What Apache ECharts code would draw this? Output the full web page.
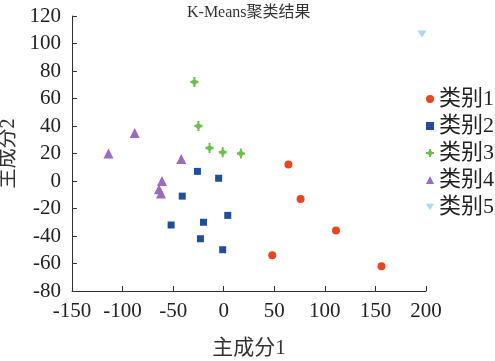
<!DOCTYPE html>
<html><head><meta charset="utf-8">
<script src="https://cdn.jsdelivr.net/npm/echarts@6/dist/echarts.min.js"></script>
<style>html,body{margin:0;padding:0;background:#fff}#c{width:495px;height:361px}</style>
</head><body><div id="c"></div>
<script>
var titleText = 'K-Means聚类结果';
var xName = '主成分1';
var yName = '主成分2';
var seriesNames = ['类别1', '类别2', '类别3', '类别4', '类别5'];
var cluster1 = [[64, 12], [76, -13], [111, -36], [48, -54], [156, -62]];
var cluster2 = [[-26, 7], [-5, 2], [-41, -11], [4, -25], [-52, -32], [-20, -30], [-23, -42], [-1, -50]];
var cluster3 = [[-29, 72], [-25, 40], [-14, 24], [-1, 21], [17, 20]];
var cluster4 = [[-114, 20], [-88, 35], [-42, 16], [-61, 0], [-64, -6], [-62, -9]];
var cluster5 = [[196, 107]];
var xTicks = [-150, 200, 50];
var yTicks = [-80, 120, 20];

var colors = ['#E8461E', '#1F4E9C', '#6CC04A', '#9B6BBE', '#A3DCEE'];
var symbols = ['circle', 'rect', 'path://M4,0 C5,2 6,3 8,4 C6,5 5,6 4,8 C3,6 2,5 0,4 C2,3 3,2 4,0 Z M3,0 H5 V8 H3 Z M0,3 H8 V5 H0 Z', 'triangle', 'path://M0,0 L10,0 L5,8 Z'];
var sizes = [8, 7, [8, 10], 10, [9, 7]];
var data = [cluster1, cluster2, cluster3, cluster4, cluster5];
var serif = '"Liberation Serif", "Noto Sans CJK SC", serif';

var chart = echarts.init(document.getElementById('c'), null, {renderer: 'canvas'});
chart.setOption({
  animation: false,
  title: {text: titleText, left: 182, top: 0,
    textStyle: {fontFamily: serif, fontSize: 16, fontWeight: 'normal', color: '#333'}},
  grid: {left: 72, right: 69, top: 16, bottom: 70, containLabel: false, outerBoundsMode: 'none'},
  legend: {orient: 'vertical', left: 421, top: 83, itemGap: 5, itemWidth: 8, itemHeight: 8,
    textStyle: {fontFamily: serif, fontSize: 22, color: '#222'},
    data: seriesNames.map(function (n, i) { return {name: n, icon: symbols[i]}; })},
  xAxis: {type: 'value', min: xTicks[0], max: xTicks[1], interval: xTicks[2],
    name: xName, nameLocation: 'middle', nameGap: 47,
    nameTextStyle: {fontFamily: serif, fontSize: 21, color: '#333'},
    axisLine: {onZero: false, lineStyle: {color: '#333', width: 1}},
    axisTick: {inside: true, length: 5, lineStyle: {color: '#333'}},
    axisLabel: {fontFamily: serif, fontSize: 21, color: '#222', margin: 10},
    splitLine: {show: false}},
  yAxis: {type: 'value', min: yTicks[0], max: yTicks[1], interval: yTicks[2],
    name: yName, nameLocation: 'middle', nameGap: 53,
    nameTextStyle: {fontFamily: serif, fontSize: 20, color: '#333'},
    axisLine: {show: true, onZero: false, lineStyle: {color: '#333', width: 1}},
    axisTick: {show: true, inside: true, length: 5, lineStyle: {color: '#333'}},
    axisLabel: {fontFamily: serif, fontSize: 21, color: '#222', margin: 11},
    splitLine: {show: false}},
  series: data.map(function (d, i) {
    return {type: 'scatter', name: seriesNames[i], data: d, symbol: symbols[i],
      symbolSize: sizes[i], itemStyle: {color: colors[i], opacity: 1}};
  })
});
</script></body></html>
